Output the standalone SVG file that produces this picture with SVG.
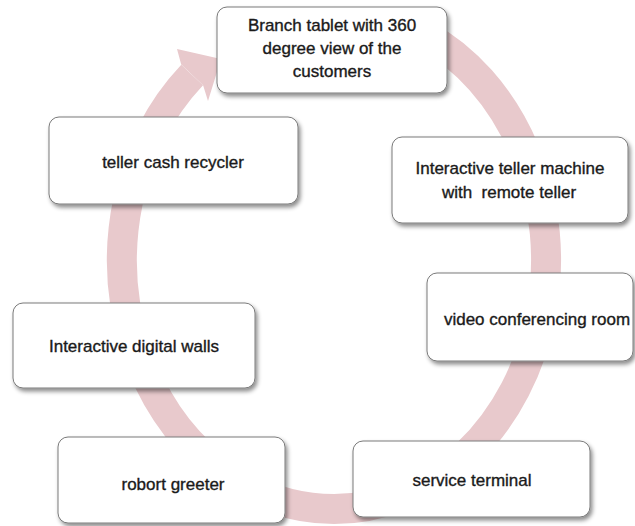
<svg xmlns="http://www.w3.org/2000/svg" width="635" height="526" viewBox="0 0 635 526">
  <defs>
    <filter id="shadow" x="-10%" y="-10%" width="125%" height="130%">
      <feDropShadow dx="2" dy="3" stdDeviation="2" flood-color="#000" flood-opacity="0.45"/>
    </filter>
    <style>
      .box { fill: #ffffff; stroke: #7a7a7a; stroke-width: 1; filter: url(#shadow); }
      .label { font-family: "Liberation Sans", Arial, sans-serif; font-size: 17px; fill: #1a1a1a; stroke: #1a1a1a; stroke-width: 0.35; text-anchor: middle; }
      .ring { fill: none; stroke: #e8c9cc; stroke-width: 30; stroke-linecap: butt; }
      .head { fill: #e8c9cc; }
    </style>
  </defs>
  <rect width="635" height="526" fill="#ffffff"/>

  <!-- circular flow arrow running clockwise behind the boxes -->
  <g id="connectors">
    <path class="ring" d="M423.6,34.3 A212,249 0 0 1 334,509 A212,249 0 0 1 192.15,74.96"/>
    <polygon class="head" points="181.2,64.6 177,49 221,59 208,101 203.1,85.3"/>
  </g>

  <g id="node-branch-tablet">
    <rect class="box" x="217" y="7" width="230" height="86" rx="10"/>
    <text class="label"><tspan x="332" y="31">Branch tablet with 360</tspan><tspan x="332" y="54">degree view of the</tspan><tspan x="332" y="77">customers</tspan></text>
  </g>

  <g id="node-teller-cash-recycler">
    <rect class="box" x="49" y="117" width="249" height="87" rx="10"/>
    <text class="label" x="173" y="168">teller cash recycler</text>
  </g>

  <g id="node-interactive-teller-machine">
    <rect class="box" x="392" y="137" width="236" height="86" rx="10"/>
    <text class="label" xml:space="preserve"><tspan x="510" y="174">Interactive teller machine</tspan><tspan x="509" y="198">with  remote teller</tspan></text>
  </g>

  <g id="node-video-conferencing">
    <rect class="box" x="427" y="273" width="206" height="88" rx="10"/>
    <text class="label" x="537" y="325">video conferencing room</text>
  </g>

  <g id="node-digital-walls">
    <rect class="box" x="13" y="303" width="242" height="85" rx="10"/>
    <text class="label" x="134" y="352">Interactive digital walls</text>
  </g>

  <g id="node-robort-greeter">
    <rect class="box" x="58" y="437" width="227" height="86" rx="10"/>
    <text class="label" x="173" y="490">robort greeter</text>
  </g>

  <g id="node-service-terminal">
    <rect class="box" x="353" y="441" width="237" height="76" rx="10"/>
    <text class="label" x="472" y="486">service terminal</text>
  </g>
</svg>
